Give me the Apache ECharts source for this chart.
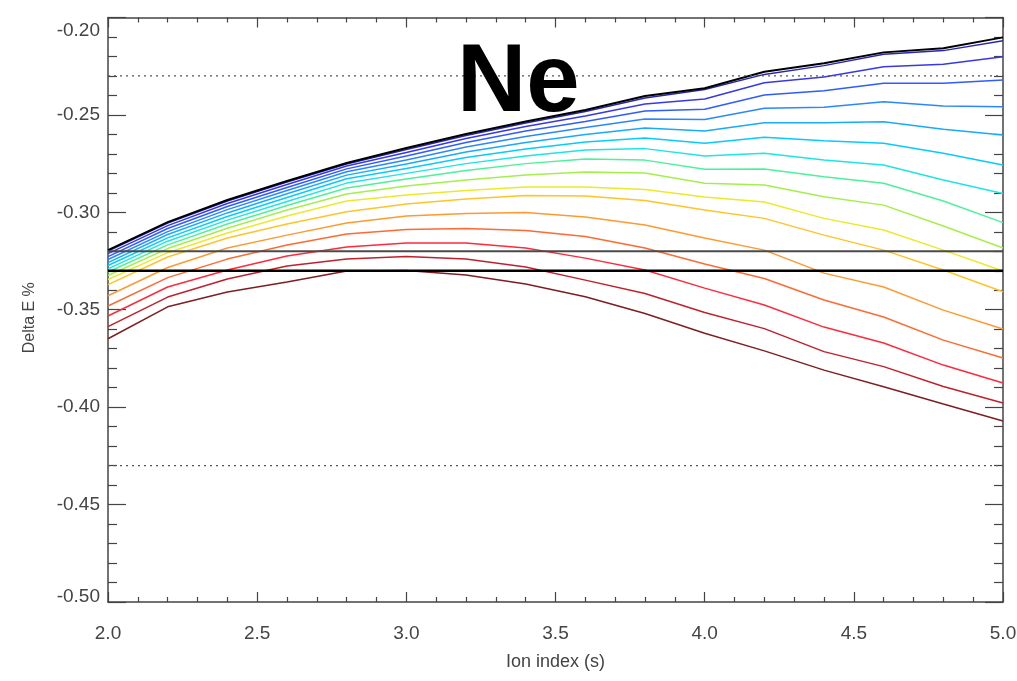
<!DOCTYPE html>
<html><head><meta charset="utf-8">
<script src="https://cdn.jsdelivr.net/npm/echarts@6/dist/echarts.min.js"></script>
<style>html,body{margin:0;padding:0;background:#fff;}#c{width:1017px;height:681px;}</style>
</head><body><div id="c"></div>
<script>
// x positions (Ion index)
const ionIndex = [2.0,2.2,2.4,2.6,2.8,3.0,3.2,3.4,3.6,3.8,4.0,4.2,4.4,4.6,4.8,5.0];
// black envelope curve
const curveBlack = [-0.3194,-0.3050,-0.2937,-0.2839,-0.2747,-0.2670,-0.2598,-0.2534,-0.2475,-0.2403,-0.2363,-0.2278,-0.2235,-0.2179,-0.2158,-0.2102];
// coloured curves, top (blue) to bottom (dark red)
const curve01 = [-0.3199,-0.3055,-0.2942,-0.2844,-0.2752,-0.2678,-0.2606,-0.2542,-0.2483,-0.2413,-0.2370,-0.2292,-0.2247,-0.2189,-0.2170,-0.2119];
const curve02 = [-0.3212,-0.3068,-0.2955,-0.2857,-0.2762,-0.2693,-0.2621,-0.2560,-0.2506,-0.2444,-0.2418,-0.2335,-0.2305,-0.2253,-0.2240,-0.2201];
const curve03 = [-0.3227,-0.3083,-0.2970,-0.2873,-0.2777,-0.2711,-0.2642,-0.2583,-0.2534,-0.2480,-0.2471,-0.2398,-0.2376,-0.2338,-0.2338,-0.2321];
const curve04 = [-0.3242,-0.3099,-0.2986,-0.2888,-0.2792,-0.2731,-0.2665,-0.2611,-0.2565,-0.2521,-0.2523,-0.2466,-0.2461,-0.2432,-0.2454,-0.2458];
const curve05 = [-0.3258,-0.3114,-0.3003,-0.2905,-0.2809,-0.2752,-0.2690,-0.2642,-0.2601,-0.2567,-0.2583,-0.2540,-0.2540,-0.2535,-0.2574,-0.2603];
const curve06 = [-0.3273,-0.3131,-0.3021,-0.2924,-0.2828,-0.2775,-0.2719,-0.2675,-0.2639,-0.2619,-0.2646,-0.2615,-0.2632,-0.2646,-0.2697,-0.2757];
const curve07 = [-0.3290,-0.3148,-0.3040,-0.2944,-0.2850,-0.2800,-0.2750,-0.2711,-0.2680,-0.2673,-0.2711,-0.2697,-0.2732,-0.2757,-0.2834,-0.2903];
const curve08 = [-0.3306,-0.3167,-0.3060,-0.2965,-0.2875,-0.2829,-0.2785,-0.2750,-0.2726,-0.2732,-0.2779,-0.2778,-0.2817,-0.2851,-0.2942,-0.3053];
const curve09 = [-0.3324,-0.3186,-0.3082,-0.2988,-0.2906,-0.2865,-0.2834,-0.2809,-0.2793,-0.2798,-0.2851,-0.2860,-0.2920,-0.2963,-0.3070,-0.3183];
const curve10 = [-0.3345,-0.3207,-0.3106,-0.3019,-0.2942,-0.2911,-0.2888,-0.2870,-0.2870,-0.2883,-0.2921,-0.2947,-0.3031,-0.3091,-0.3194,-0.3301];
const curve11 = [-0.3371,-0.3229,-0.3132,-0.3060,-0.2997,-0.2957,-0.2932,-0.2914,-0.2916,-0.2939,-0.2988,-0.3031,-0.3117,-0.3194,-0.3296,-0.3408];
const curve12 = [-0.3428,-0.3283,-0.3183,-0.3117,-0.3055,-0.3019,-0.3006,-0.3001,-0.3024,-0.3065,-0.3132,-0.3194,-0.3312,-0.3383,-0.3502,-0.3599];
const curve13 = [-0.3481,-0.3335,-0.3240,-0.3168,-0.3111,-0.3088,-0.3083,-0.3093,-0.3124,-0.3183,-0.3265,-0.3340,-0.3450,-0.3537,-0.3656,-0.3748];
const curve14 = [-0.3532,-0.3383,-0.3296,-0.3224,-0.3178,-0.3158,-0.3158,-0.3183,-0.3235,-0.3296,-0.3389,-0.3476,-0.3589,-0.3671,-0.3784,-0.3876];
const curve15 = [-0.3587,-0.3435,-0.3342,-0.3276,-0.3240,-0.3227,-0.3240,-0.3281,-0.3348,-0.3417,-0.3514,-0.3597,-0.3715,-0.3792,-0.3894,-0.3979];
const curve16 = [-0.3649,-0.3485,-0.3409,-0.3358,-0.3301,-0.3299,-0.3322,-0.3368,-0.3433,-0.3519,-0.3621,-0.3711,-0.3810,-0.3895,-0.3984,-0.4071];
// horizontal reference levels
const dottedLevels = [-0.23, -0.43];
const solidLevels = [-0.32, -0.33];
const xRange = [2.0, 5.0];
const yRange = [-0.50, -0.20];
const titleText = 'Ne';

const curves = [curve01,curve02,curve03,curve04,curve05,curve06,curve07,curve08,curve09,curve10,curve11,curve12,curve13,curve14,curve15,curve16];
const curveColors = ['#2626b4','#3838e4','#2f5cff','#2a88ff','#18aaff','#06cbff','#1de6e2','#4cf29a','#a4ef4c','#ece92a','#ffc42a','#ff9a30','#ff6a32','#ff2a3c','#c0202c','#7e1e22'];

const chart = echarts.init(document.getElementById('c'), null, {renderer:'canvas'});
const FONT = '"Liberation Sans", Arial, Helvetica, sans-serif';
const axisCol = '#444';

const series = [];
curves.forEach((c, k) => {
  series.push({
    type:'line', data: ionIndex.map((x,i)=>[x,c[i]]), symbol:'none', z: 2,
    lineStyle:{color:curveColors[k], width:1.5}, silent:true
  });
});
series.push({type:'line', data: ionIndex.map((x,i)=>[x,curveBlack[i]]), symbol:'none', z:3,
  lineStyle:{color:'#000', width:2}, silent:true});
dottedLevels.forEach(v => series.push({type:'line', data: xRange.map(x=>[x,v]), symbol:'none', z:4,
  lineStyle:{color:'#555', width:1.2, type:[2,4]}, silent:true}));
series.push({type:'line', data: xRange.map(x=>[x,solidLevels[0]]), symbol:'none', z:4,
  lineStyle:{color:'#4a4a4a', width:2}, silent:true});
series.push({type:'line', data: xRange.map(x=>[x,solidLevels[1]]), symbol:'none', z:4,
  lineStyle:{color:'#000', width:2.6}, silent:true});

function xAxisCfg(pos, showLabel){
  return {
    type:'value', position:pos, min:xRange[0], max:xRange[1], interval:0.5,
    axisLine:{show:true, onZero:false, lineStyle:{color:axisCol, width:1.5}},
    axisTick:{show:true, inside:true, length:10, lineStyle:{color:axisCol, width:1.2}},
    minorTick:{show:true, splitNumber:5, length:5, lineStyle:{color:axisCol, width:1.2}},
    splitLine:{show:false}, minorSplitLine:{show:false},
    axisLabel:{show:showLabel, fontSize:19, color:axisCol, fontFamily:FONT, margin:22,
      formatter:v=>v.toFixed(1)},
    name: showLabel ? 'Ion index (s)' : '', nameLocation:'middle', nameGap:51,
    nameTextStyle:{fontSize:18, color:axisCol, fontFamily:FONT}
  };
}
function yAxisCfg(pos, showLabel){
  return {
    type:'value', position:pos, min:yRange[0], max:yRange[1], interval:0.05,
    axisLine:{show:true, onZero:false, lineStyle:{color:axisCol, width:1.5}},
    axisTick:{show:true, inside:true, length:18, lineStyle:{color:axisCol, width:1.2}},
    minorTick:{show:true, splitNumber:5, length:9, lineStyle:{color:axisCol, width:1.2}},
    splitLine:{show:false}, minorSplitLine:{show:false},
    axisLabel:{show:showLabel, fontSize:19, color:axisCol, fontFamily:FONT, margin:8,
      formatter:v=>{
        const s = v.toFixed(2);
        if (v > yRange[1]-1e-6) return '{t|'+s+'}';
        if (v < yRange[0]+1e-6) return '{b|'+s+'}';
        return s;
      },
      rich:{
        t:{fontSize:19, color:axisCol, fontFamily:FONT, padding:[26,0,0,0]},
        b:{fontSize:19, color:axisCol, fontFamily:FONT, padding:[0,0,10,0]}
      }},
    name: showLabel ? 'Delta E %' : '', nameLocation:'middle', nameGap:70, nameRotate:90,
    nameTextStyle:{fontSize:16, color:axisCol, fontFamily:FONT, padding:[0,16,0,0]}
  };
}

chart.setOption({
  animation:false,
  backgroundColor:'#fff',
  grid:{left:108, right:14, top:17.5, bottom:79, containLabel:false, outerBoundsMode:'none'},
  xAxis:[xAxisCfg('bottom', true), xAxisCfg('top', false)],
  yAxis:[yAxisCfg('left', true), yAxisCfg('right', false)],
  series: series,
  graphic:[{type:'text', left:457, top:37, z:10,
    style:{text:titleText, font:'bold 96px '+FONT, fill:'#000'}}]
});
</script></body></html>
